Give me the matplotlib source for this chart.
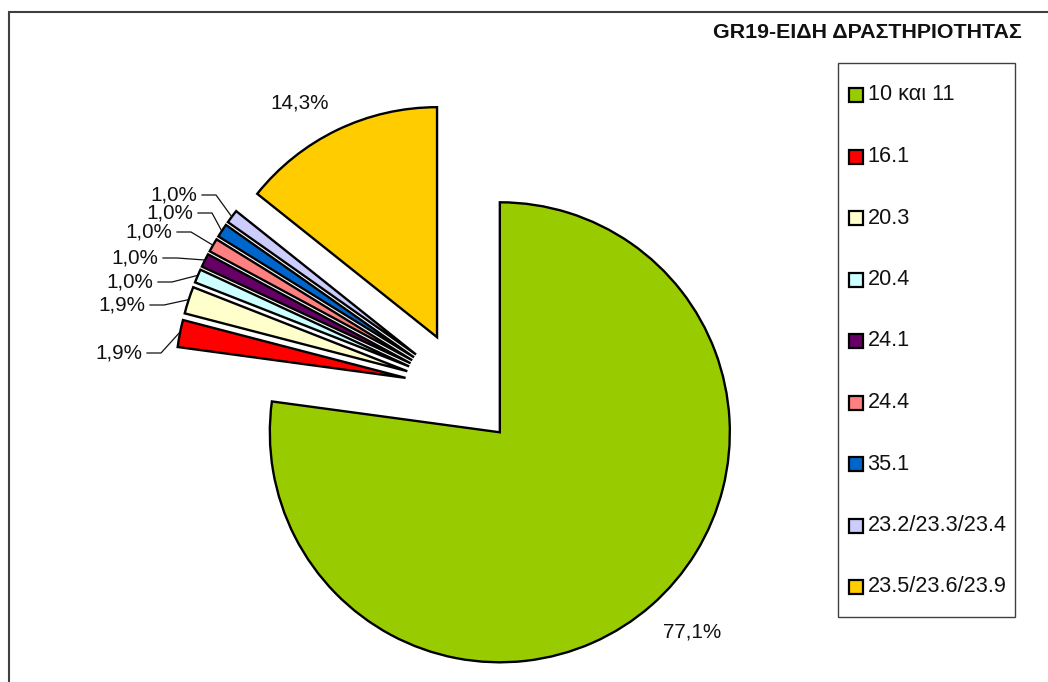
import numpy as np
import matplotlib
matplotlib.use("Agg")
import matplotlib.pyplot as plt
from matplotlib.patches import Rectangle

plt.rcParams['font.family'] = ['Liberation Sans', 'DejaVu Sans']

# activity types (counts of units)
categories = ['10 και 11', '16.1', '20.3', '20.4', '24.1', '24.4', '35.1',
              '23.2/23.3/23.4', '23.5/23.6/23.9']
counts = [81, 2, 2, 1, 1, 1, 1, 1, 15]
colors = ['#99CC00', '#FF0000', '#FFFFCC', '#CCFFFF', '#660066', '#FF8080',
          '#0066CC', '#CCCCFF', '#FFCC00']
title = 'GR19-ΕΙΔΗ ΔΡΑΣΤΗΡΙΟΤΗΤΑΣ'

W, H = 1048, 682
def P(x, y):
    # pixel (top-left origin) -> data
    return (x, H - y)

# label placement: big slices centred, small ones right-aligned with leaders
big_pos = {0: (692, 632), 8: (300, 103)}
small_pos = {1: (142, 353), 2: (145, 305), 3: (153, 282), 4: (158, 258),
             5: (172, 232), 6: (193, 213), 7: (197, 195)}

fig = plt.figure(figsize=(W / 100, H / 100), dpi=100)
ax = fig.add_axes([0, 0, 1, 1])

R = 230
# explode is in data units here, so scale it by the radius
wedges, _ = ax.pie(counts, colors=colors, startangle=90, counterclock=False,
                   explode=[0.25 * R] * len(counts), radius=R,
                   center=P(462, 389), frame=True,
                   wedgeprops=dict(edgecolor='black', linewidth=1.7))
ax.set_xlim(0, W)
ax.set_ylim(0, H)
ax.set_aspect('auto')
ax.axis('off')

total = sum(counts)
pct = ['{:.1f}%'.format(100 * c / total).replace('.', ',') for c in counts]

for i, w in enumerate(wedges):
    if i in big_pos:
        ax.text(*P(*big_pos[i]), pct[i], ha='center', va='center',
                fontsize=14.9, color='#111111')
    else:
        xr, yr = small_pos[i]
        ax.text(*P(xr, yr), pct[i], ha='right', va='center',
                fontsize=14.9, color='#111111')
        mid = np.deg2rad((w.theta1 + w.theta2) / 2)
        cx, cy = w.center
        ax_, ay_ = cx + (w.r + 1) * np.cos(mid), cy + (w.r + 1) * np.sin(mid)
        x0, y0 = P(xr + 5, yr)
        x1, _ = P(xr + 19, yr)
        ax.plot([x0, x1, ax_], [y0, y0, ay_], color='#111111', lw=0.9)

# title
ax.text(*P(867, 33), title, ha='center', va='center', fontsize=15.4,
        fontweight='bold', color='#111111')

# legend box
lx0, ly0, lx1, ly1 = 838, 63, 1015, 617
ax.add_patch(Rectangle(P(lx0, ly1), lx1 - lx0, ly1 - ly0, facecolor='white',
                       edgecolor='#404040', lw=1.0))
for i, (lab, col) in enumerate(zip(categories, colors)):
    yc = 95 + i * 61.5
    ax.add_patch(Rectangle(P(848.5, yc + 7), 14, 14, facecolor=col,
                           edgecolor='black', lw=1.6))
    ax.text(*P(867.5, yc), lab, ha='left', va='center', fontsize=15.6,
            color='#111111')

# outer chart border
fig.add_artist(Rectangle((9 / W, -0.1), 1.2, (H - 12) / H + 0.1,
                         transform=fig.transFigure, fill=False,
                         edgecolor='#404040', lw=1.5))

fig.savefig('out.png', dpi=100)
